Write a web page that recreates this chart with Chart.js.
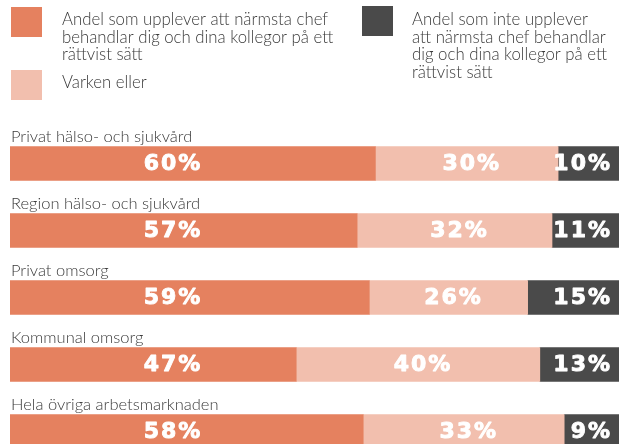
<!DOCTYPE html>
<html>
<head>
<meta charset="utf-8">
<script src="https://cdn.jsdelivr.net/npm/chart.js@4/dist/chart.umd.min.js"></script>
<style>
  html, body { margin: 0; padding: 0; background: #ffffff; overflow: hidden; }
  #wrap { position: relative; width: 619px; height: 465px; }
</style>
</head>
<body>
<div id="wrap"><canvas id="c" width="619" height="465"></canvas></div>
<script>
const categories = [
  "Privat hälso- och sjukvård",
  "Region hälso- och sjukvård",
  "Privat omsorg",
  "Kommunal omsorg",
  "Hela övriga arbetsmarknaden"
];
const fairValues = [60, 57, 59, 47, 58];
const neutralValues = [30, 32, 26, 40, 33];
const unfairValues = [10, 11, 15, 13, 9];

const seriesNames = [
  ["Andel som upplever att närmsta chef", "behandlar dig och dina kollegor på ett", "rättvist sätt"],
  ["Varken eller"],
  ["Andel som inte upplever", "att närmsta chef behandlar", "dig och dina kollegor på ett", "rättvist sätt"]
];
const colors = ["#E5815F", "#F2BFAE", "#4A4A4A"];
const textColor = "#3a3a3a";
const legendFont = "300 16.8px Lato, 'Open Sans', sans-serif";
const labelFont = "300 16.5px Lato, 'Open Sans', sans-serif";
const valueFont = "bold 22px 'DejaVu Sans', sans-serif";

const overlay = {
  id: "overlay",
  afterDatasetsDraw(chart) {
    const ctx = chart.ctx;
    const xs = chart.scales.x;
    ctx.save();
    // legend
    const legendItems = [
      { x: 11, y: 7, text: seriesNames[0], color: colors[0], tx: 62, ty: 25 },
      { x: 11, y: 70, text: seriesNames[1], color: colors[1], tx: 62, ty: 88 },
      { x: 362, y: 6, text: seriesNames[2], color: colors[2], tx: 412, ty: 25 }
    ];
    ctx.font = legendFont;
    ctx.textBaseline = "alphabetic";
    ctx.textAlign = "left";
    legendItems.forEach(it => {
      ctx.fillStyle = it.color;
      ctx.fillRect(it.x, it.y, 31, 30);
      ctx.fillStyle = textColor;
      it.text.forEach((line, i) => ctx.fillText(line, it.tx, it.ty + i * 17.6));
    });
    // category labels above bars
    const meta0 = chart.getDatasetMeta(0);
    categories.forEach((c, i) => {
      const el = meta0.data[i];
      const top = el.y - el.height / 2;
      ctx.fillStyle = textColor;
      ctx.font = labelFont;
      ctx.textAlign = "left";
      ctx.fillText(c, xs.left + 1, top - 5);
    });
    // value labels
    ctx.font = valueFont;
    ctx.letterSpacing = "2px";
    ctx.fillStyle = "#ffffff";
    ctx.strokeStyle = "#ffffff";
    ctx.lineWidth = 0.9;
    ctx.lineJoin = "round";
    ctx.textBaseline = "middle";
    chart.data.datasets.forEach((ds, di) => {
      const meta = chart.getDatasetMeta(di);
      meta.data.forEach((el, i) => {
        const txt = ds.data[i] + "%";
        let x;
        if (di === 0) { ctx.textAlign = "center"; x = xs.getPixelForValue(26.6) + 1; }
        else if (di === 1) { ctx.textAlign = "center"; x = (el.base + el.x) / 2 + 5; }
        else { ctx.textAlign = "right"; x = el.x - 7; }
        ctx.fillText(txt, x, el.y + 1);
        ctx.strokeText(txt, x, el.y + 1);
      });
    });
    ctx.restore();
  }
};

new Chart(document.getElementById("c"), {
  type: "bar",
  data: {
    labels: categories,
    datasets: [
      { label: seriesNames[0].join(" "), data: fairValues, backgroundColor: colors[0] },
      { label: seriesNames[1].join(" "), data: neutralValues, backgroundColor: colors[1] },
      { label: seriesNames[2].join(" "), data: unfairValues, backgroundColor: colors[2] }
    ]
  },
  options: {
    indexAxis: "y",
    responsive: false,
    animation: false,
    events: [],
    layout: { padding: { left: 10, right: 0, top: 130, bottom: 0 } },
    datasets: { bar: { barThickness: 34, borderWidth: 0 } },
    scales: {
      x: { stacked: true, min: 0, max: 100, display: false },
      y: { stacked: true, display: false }
    },
    plugins: { legend: { display: false }, tooltip: { enabled: false } }
  },
  plugins: [overlay]
});
</script>
</body>
</html>
